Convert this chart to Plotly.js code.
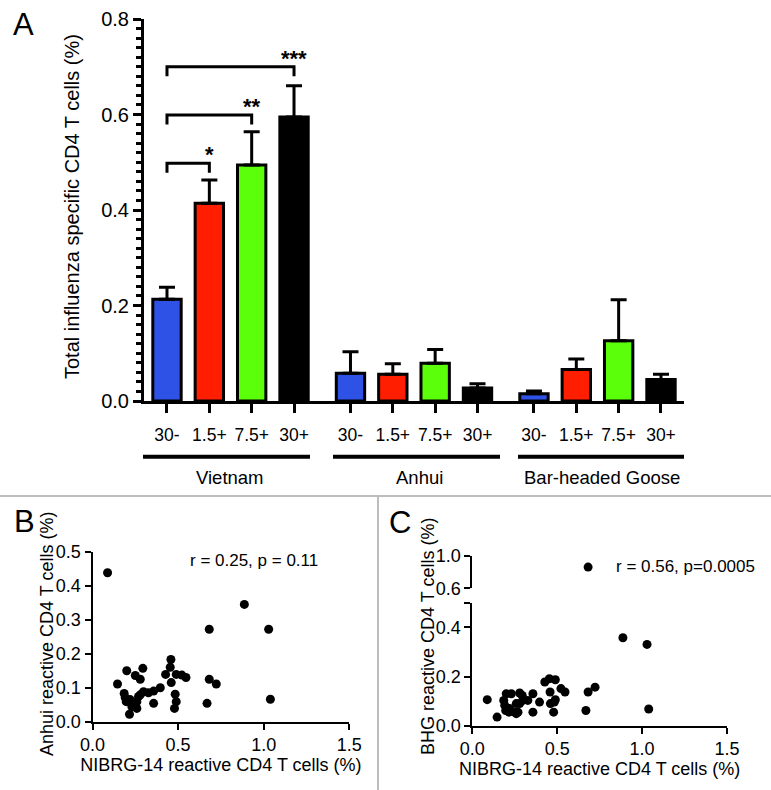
<!DOCTYPE html>
<html>
<head>
<meta charset="utf-8">
<script src="https://cdn.plot.ly/plotly-3.0.1.min.js"></script>
<style>html,body{margin:0;padding:0;background:#fff;}#chart{width:771px;height:790px;}</style>
</head>
<body>
<div id="chart"></div>
<script>
// ---------------- DATA ----------------
const groups = ['Vietnam', 'Anhui', 'Bar-headed Goose'];
const doses = ['30-', '1.5+', '7.5+', '30+'];
const vietnamMean = [0.213, 0.414, 0.494, 0.595];
const vietnamSem  = [0.025, 0.049, 0.070, 0.065];
const anhuiMean   = [0.058, 0.056, 0.079, 0.027];
const anhuiSem    = [0.045, 0.022, 0.029, 0.009];
const bhgMean     = [0.015, 0.066, 0.126, 0.045];
const bhgSem      = [0.006, 0.022, 0.086, 0.011];
const sigPairs    = [[0, 1, '*'], [0, 2, '**'], [0, 3, '***']];

// NIBRG-14 reactive (x, shared), Anhui reactive (B), BHG reactive (C)
const nibrg = [0.088, 0.146, 0.185, 0.191, 0.197, 0.200, 0.216, 0.220, 0.230, 0.259,
               0.259, 0.250, 0.269, 0.279, 0.279, 0.294, 0.298, 0.327, 0.357, 0.357,
               0.396, 0.427, 0.454, 0.458, 0.460, 0.479, 0.483, 0.489, 0.489, 0.522,
               0.546, 0.669, 0.682, 0.682, 0.723, 0.887, 1.029, 1.039];
const anhuiR = [0.438, 0.111, 0.083, 0.071, 0.059, 0.150, 0.022, 0.065, 0.044, 0.039,
                0.059, 0.136, 0.074, 0.125, 0.079, 0.157, 0.088, 0.085, 0.090, 0.054,
                0.100, 0.139, 0.160, 0.183, 0.115, 0.039, 0.081, 0.139, 0.059, 0.137,
                0.130, 0.054, 0.125, 0.272, 0.111, 0.345, 0.272, 0.066];
const bhgR   = [0.106, 0.035, 0.103, 0.083, 0.062, 0.130, 0.055, 0.070, 0.130, 0.049,
                0.090, 0.055, 0.055, 0.133, 0.090, 0.123, 0.103, 0.103, 0.130, 0.055,
                0.096, 0.178, 0.191, 0.137, 0.090, 0.055, 0.096, 0.187, 0.106, 0.151,
                0.137, 0.062, 0.137, 0.860, 0.157, 0.358, 0.331, 0.068];
const rTextB = 'r = 0.25, p = 0.11';
const rTextC = 'r = 0.56, p=0.0005';
const titleA = 'Total influenza specific CD4 T cells (%)';
const titleBy = 'Anhui reactive CD4 T cells (%)';
const titleCy = 'BHG reactive CD4 T cells (%)';
const titleX = 'NIBRG-14 reactive CD4 T cells (%)';

// ---------------- STYLE / LAYOUT ----------------
const W = 771, H = 790;
const px = v => v / W;
const py = v => 1 - v / H;
const FONT = 'Liberation Sans, Arial, Helvetica, sans-serif';
const doseColors = ['#2f52e6', '#ff1e00', '#5cff0a', '#000000'];
const groupStep = 13 / 3;

const means = [vietnamMean, anhuiMean, bhgMean];
const sems = [vietnamSem, anhuiSem, bhgSem];

const traces = [];
const tickPos = [], tickTxt = [];
groups.forEach((g, gi) => {
  const xs = doses.map((d, i) => gi * groupStep + i);
  xs.forEach((x, i) => { tickPos.push(x); tickTxt.push(doses[i]); });
  traces.push({
    type: 'bar', x: xs, y: means[gi], width: 0.67,
    marker: {color: doseColors, line: {color: '#000', width: 3}},
    error_y: {type: 'data', symmetric: false, array: sems[gi], arrayminus: sems[gi].map(() => 0),
              color: '#000', thickness: 3, width: 8},
    xaxis: 'x', yaxis: 'y', showlegend: false, hoverinfo: 'skip'
  });
});

traces.push({
  type: 'scatter', mode: 'markers', x: nibrg, y: anhuiR,
  marker: {color: '#000', size: 9}, xaxis: 'x2', yaxis: 'y2', showlegend: false
});
const lowIdx = bhgR.map((v, i) => i).filter(i => bhgR[i] <= 0.5);
const highIdx = bhgR.map((v, i) => i).filter(i => bhgR[i] > 0.5);
traces.push({
  type: 'scatter', mode: 'markers', x: lowIdx.map(i => nibrg[i]), y: lowIdx.map(i => bhgR[i]),
  marker: {color: '#000', size: 9}, xaxis: 'x3', yaxis: 'y3', showlegend: false
});
traces.push({
  type: 'scatter', mode: 'markers', x: highIdx.map(i => nibrg[i]), y: highIdx.map(i => bhgR[i]),
  marker: {color: '#000', size: 9}, xaxis: 'x3', yaxis: 'y4', showlegend: false
});

const tf = {family: FONT, size: 18, color: '#000'};
const baseAx = {showline: true, linecolor: '#000', ticks: 'outside', tickcolor: '#000',
                showgrid: false, zeroline: false, automargin: false, tickfont: tf, fixedrange: true};

// brackets
const shapes = [];
const brY = [0.498, 0.599, 0.700];
const annotations = [];
sigPairs.forEach((p, k) => {
  const y = brY[k];
  shapes.push({type: 'path', xref: 'x', yref: 'y',
    path: `M ${p[0]} ${y - 0.02} L ${p[0]} ${y} L ${p[1]} ${y} L ${p[1]} ${y - 0.02}`,
    line: {color: '#000', width: 3}});
  annotations.push({xref: 'x', yref: 'y', x: p[1], y: y, text: '<b>' + p[2] + '</b>',
    showarrow: false, yanchor: 'bottom', xanchor: 'center', yshift: -6,
    font: {family: FONT, size: 22, color: '#000'}});
});

// group lines + labels
const groupSpan = [[143, 310], [333, 500], [518, 684]];
groups.forEach((g, gi) => {
  shapes.push({type: 'line', xref: 'paper', yref: 'paper',
    x0: px(groupSpan[gi][0]), x1: px(groupSpan[gi][1]), y0: py(456.7), y1: py(456.7),
    line: {color: '#000', width: 4}});
});
const groupLabelX = [230, 420, 602];
groups.forEach((g, gi) => {
  annotations.push({xref: 'paper', yref: 'paper', x: px(groupLabelX[gi]), y: py(477),
    text: g, showarrow: false, xanchor: 'center', yanchor: 'middle',
    font: {family: FONT, size: 18.5, color: '#000'}});
});

// separators
shapes.push({type: 'line', xref: 'paper', yref: 'paper', x0: 0, x1: 1, y0: py(496), y1: py(496),
  line: {color: '#bdbdbd', width: 2}});
shapes.push({type: 'line', xref: 'paper', yref: 'paper', x0: px(378), x1: px(378), y0: py(496), y1: 0,
  line: {color: '#bdbdbd', width: 2}});

// panel letters
[['A', 23, 25], ['B', 24, 521], ['C', 400, 522]].forEach(l => {
  annotations.push({xref: 'paper', yref: 'paper', x: px(l[1]), y: py(l[2]), text: l[0],
    showarrow: false, xanchor: 'center', yanchor: 'middle',
    font: {family: FONT, size: 31, color: '#000'}});
});

// correlation text
annotations.push({xref: 'paper', yref: 'paper', x: px(254), y: py(560), text: rTextB,
  showarrow: false, xanchor: 'center', yanchor: 'middle', font: {family: FONT, size: 17, color: '#000'}});
annotations.push({xref: 'paper', yref: 'paper', x: px(685), y: py(566), text: rTextC,
  showarrow: false, xanchor: 'center', yanchor: 'middle', font: {family: FONT, size: 17, color: '#000'}});

// y titles (rotated)
[[titleA, 72, 207, 20], [titleBy, 47, 634, 18], [titleCy, 428, 637, 18]].forEach(t => {
  annotations.push({xref: 'paper', yref: 'paper', x: px(t[1]), y: py(t[2]), text: t[0],
    showarrow: false, textangle: -90, xanchor: 'center', yanchor: 'middle',
    font: {family: FONT, size: t[3], color: '#000'}});
});

const layout = {
  width: W, height: H, margin: {l: 0, r: 0, t: 0, b: 0},
  paper_bgcolor: '#fff', plot_bgcolor: 'rgba(0,0,0,0)',
  font: {family: FONT, color: '#000'}, showlegend: false, bargap: 0,
  xaxis: Object.assign({}, baseAx, {domain: [px(144), px(684)], range: [-0.543, 12.21], anchor: 'y',
    linewidth: 3, ticklen: 9, tickwidth: 3, tickvals: tickPos, ticktext: tickTxt,
    tickfont: {family: FONT, size: 17.5, color: '#000'}, ticklabelstandoff: 7}),
  yaxis: Object.assign({}, baseAx, {domain: [py(401), py(19)], range: [0, 0.8], anchor: 'x',
    linewidth: 3, ticklen: 8, tickwidth: 3, dtick: 0.2, tick0: 0, tickformat: '.1f',
    tickfont: {family: FONT, size: 20, color: '#000'},
    minor: {dtick: 0.02, tick0: 0, ticks: 'outside', ticklen: 5, tickwidth: 3, tickcolor: '#000', showgrid: false}}),
  xaxis2: Object.assign({}, baseAx, {domain: [px(92.5), px(349.3)], range: [0, 1.5], anchor: 'y2',
    linewidth: 2, ticklen: 6, tickwidth: 2, tickvals: [0, 0.5, 1.0, 1.5], tickformat: '.1f',
    title: {text: titleX, font: {family: FONT, size: 18, color: '#000'}, standoff: 3}}),
  yaxis2: Object.assign({}, baseAx, {domain: [py(721.7), py(551.7)], range: [0, 0.5], anchor: 'x2',
    linewidth: 2, ticklen: 6, tickwidth: 2, dtick: 0.1, tick0: 0, tickformat: '.1f'}),
  xaxis3: Object.assign({}, baseAx, {domain: [px(472.3), px(727)], range: [0, 1.5], anchor: 'y3',
    linewidth: 2, ticklen: 6, tickwidth: 2, tickvals: [0, 0.5, 1.0, 1.5], tickformat: '.1f',
    title: {text: titleX, font: {family: FONT, size: 18, color: '#000'}, standoff: 3}}),
  yaxis3: Object.assign({}, baseAx, {domain: [py(725.7), py(602.9)], range: [0, 0.5], anchor: 'x3',
    linewidth: 2, ticklen: 6, tickwidth: 2, tickvals: [0, 0.2, 0.4, 0.5], ticktext: ['0.0', '0.2', '0.4', '']}),
  yaxis4: Object.assign({}, baseAx, {domain: [py(588.3), py(555.7)], range: [0.6, 1.0], anchor: 'x3',
    linewidth: 2, ticklen: 6, tickwidth: 2, tickvals: [0.6, 1.0], ticktext: ['0.6', '1.0']}),
  shapes: shapes, annotations: annotations
};

Plotly.newPlot('chart', traces, layout, {staticPlot: true, displayModeBar: false});
</script>
</body>
</html>
